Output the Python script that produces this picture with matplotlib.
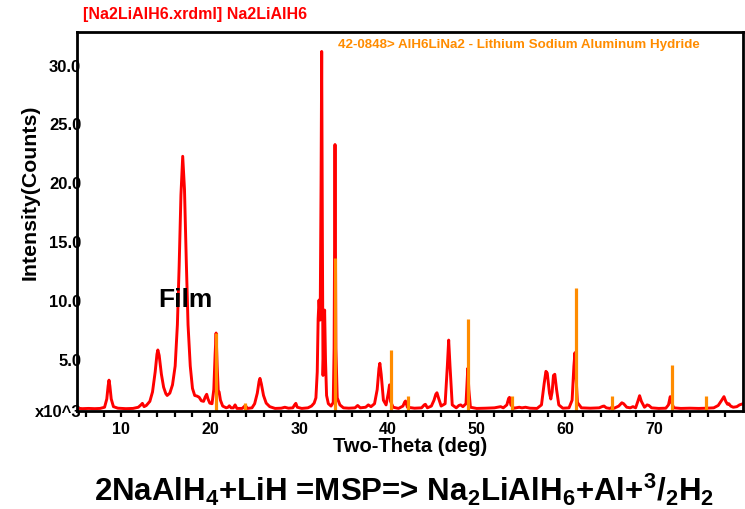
import matplotlib
matplotlib.use("Agg")
import matplotlib.pyplot as plt

plt.rcParams['font.family'] = ['Liberation Sans', 'DejaVu Sans']
plt.rcParams['font.weight'] = 'bold'

# measured pattern (two-theta in deg, counts in 10^3)
two_theta = [
    5.0, 5.6, 6.3, 7.0, 7.6, 8.1, 8.35, 8.5, 8.6, 8.7, 8.85, 9.1, 9.6, 10.5, 11.3, 11.9,
    12.2, 12.36, 12.55, 12.8, 13.2, 13.5, 13.8, 14.0, 14.1, 14.25, 14.5, 14.75, 15.0, 15.15,
    15.45, 15.75, 16.05, 16.3, 16.5, 16.7, 16.9, 17.1, 17.3, 17.5, 17.75, 18.0, 18.25, 18.5,
    18.75, 19.0, 19.25, 19.45, 19.6, 19.75, 19.95, 20.2, 20.4, 20.55, 20.66, 20.78, 20.9, 21.0,
    21.15, 21.4, 21.8, 22.0, 22.15, 22.35, 22.6, 22.8, 23.0, 23.6, 23.95, 24.2, 24.7, 25.0,
    25.3, 25.5, 25.6, 25.75, 26.0, 26.3, 26.7, 27.3, 28.0, 28.4, 28.8, 29.3, 29.5, 29.64,
    29.8, 30.3, 31.0, 31.4, 31.7, 31.9, 32.05, 32.15, 32.25, 32.38, 32.48, 32.55, 32.63, 32.7,
    32.78, 32.88, 32.98, 33.1, 33.3, 33.6, 33.85, 33.95, 34.05, 34.15, 34.3, 34.6, 35.0, 35.6,
    36.3, 36.6, 36.9, 37.5, 37.8, 38.1, 38.5, 38.8, 39.0, 39.1, 39.25, 39.5, 39.8, 40.05,
    40.19, 40.3, 40.6, 41.2, 41.7, 41.9, 41.99, 42.2, 43.0, 43.8, 44.1, 44.23, 44.45, 44.9,
    45.2, 45.4, 45.53, 45.7, 46.0, 46.45, 46.7, 46.85, 47.0, 47.25, 47.7, 48.0, 48.2, 48.45,
    48.8, 48.95, 49.0, 49.12, 49.3, 50.0, 51.0, 52.0, 52.7, 53.0, 53.4, 53.6, 53.7, 53.85,
    54.2, 54.8, 55.1, 55.5, 56.0, 56.8, 57.3, 57.6, 57.8, 57.95, 58.2, 58.35, 58.5, 58.65,
    58.8, 59.0, 59.25, 59.7, 60.4, 60.75, 60.95, 61.07, 61.2, 61.35, 61.8, 62.8, 63.8, 64.2,
    64.35, 64.6, 65.0, 65.25, 65.5, 66.0, 66.35, 66.55, 66.9, 67.3, 67.6, 67.9, 68.15, 68.35,
    68.55, 68.9, 69.2, 69.4, 69.7, 70.5, 71.3, 71.6, 71.8, 71.95, 72.2, 73.0, 74.0, 75.0,
    75.9, 76.7, 77.2, 77.6, 77.85, 78.05, 78.25, 78.4, 78.6, 78.9, 79.3, 79.6, 80.0,
]
counts = [
    0.92, 0.88, 0.90, 0.88, 0.90, 1.0, 1.7, 2.8, 3.3, 2.8, 1.7, 1.05, 0.92, 0.88, 0.90, 1.0,
    1.2, 1.33, 1.05, 1.15, 1.5, 2.3, 4.0, 5.5, 5.86, 5.4, 3.8, 2.7, 2.15, 2.0,
    2.2, 2.9, 4.5, 8.0, 13.0, 19.0, 22.3, 19.5, 13.5, 8.0, 4.5, 2.6, 2.0, 1.95,
    1.85, 1.55, 1.5, 1.9, 2.1, 1.7, 1.35, 1.3, 2.5, 5.5, 7.3, 4.5, 2.4, 2.3,
    1.6, 1.1, 0.95, 1.0, 1.12, 0.95, 0.95, 1.2, 0.9, 0.9, 1.15, 0.9, 0.95, 1.3,
    2.2, 3.2, 3.45, 3.0, 2.0, 1.35, 1.05, 0.9, 0.92, 1.0, 0.92, 0.95, 1.2, 1.33,
    1.0, 0.9, 0.95, 1.1, 1.35, 1.8, 4.0, 8.5, 10.1, 8.4, 20.0, 31.2, 15.0, 3.7,
    6.0, 9.25, 5.0, 2.0, 1.3, 1.1, 1.4, 6.0, 23.3, 6.0, 1.8, 1.2, 0.95, 0.92,
    0.95, 1.15, 0.95, 1.0, 1.2, 1.05, 1.3, 2.5, 4.3, 4.73, 3.8, 1.6, 1.2, 2.2,
    2.9, 1.5, 1.0, 0.9, 1.1, 1.45, 1.53, 1.0, 0.92, 0.95, 1.2, 1.25, 0.95, 1.1,
    1.6, 2.1, 2.23, 1.8, 1.1, 1.3, 4.5, 6.7, 4.5, 1.2, 0.95, 1.15, 1.2, 1.05,
    1.3, 3.6, 4.3, 2.5, 1.0, 0.9, 0.92, 0.95, 1.05, 0.95, 1.2, 1.75, 1.84, 1.2,
    0.92, 1.0, 0.95, 1.0, 0.92, 0.9, 1.2, 3.0, 4.05, 3.9, 2.2, 1.7, 2.3, 3.7,
    3.8, 2.5, 1.2, 0.92, 0.95, 1.6, 4.5, 5.63, 3.5, 1.4, 0.95, 0.92, 0.95, 1.08,
    1.1, 0.95, 0.9, 1.0, 0.92, 1.1, 1.38, 1.3, 1.0, 0.95, 1.05, 0.95, 1.5, 1.98,
    1.5, 1.0, 1.2, 1.15, 0.95, 0.9, 0.92, 1.2, 1.9, 1.4, 0.95, 0.9, 0.92, 0.9,
    0.92, 0.95, 1.15, 1.6, 1.9, 1.5, 1.25, 1.3, 1.1, 1.0, 1.05, 1.2, 1.3,
]

# reference card 42-0848 stick positions / heights
ref_theta = [20.66, 23.95, 34.05, 40.37, 42.28, 49.0, 53.95, 61.18, 65.25, 72.0, 75.85]
ref_height = [7.3, 1.36, 13.7, 5.9, 1.95, 8.46, 1.95, 11.1, 1.95, 4.58, 1.95]

y_bottom = 0.68
ytick_vals = [y_bottom, 5, 10, 15, 20, 25, 30]
ytick_labels = ['x10^3', '5.0', '10.0', '15.0', '20.0', '25.0', '30.0']

red = '#ff0000'
orange = '#ff8c00'

fig = plt.figure(figsize=(7.45, 5.09), dpi=100)
ax = fig.add_axes([0.1034, 0.1925, 0.8940, 0.7446])

ax.plot(two_theta, counts, color=red, linewidth=2.1, zorder=2)
ax.vlines(ref_theta, y_bottom, ref_height, color=orange, linewidth=2.3, zorder=3)

ax.set_xlim(5, 80)
ax.set_ylim(y_bottom, 32.85)

ax.set_xticks([10, 20, 30, 40, 50, 60, 70])
ax.set_xticks(list(range(6, 80, 2)), minor=True)
ax.tick_params(axis='x', which='both', direction='out', length=4, width=1.6,
               labelsize=11.5, pad=4)
ax.set_yticks(ytick_vals)
ax.set_yticklabels(ytick_labels)
ax.tick_params(axis='y', length=0, labelsize=12, pad=-3)
for lbl in ax.get_xticklabels() + ax.get_yticklabels():
    lbl.set_fontweight('bold')

for s in ax.spines.values():
    s.set_linewidth(2.0)
    s.set_zorder(5)

ax.set_xlabel('Two-Theta (deg)', fontsize=14.5, fontweight='bold', labelpad=0)
ax.set_ylabel('Intensity(Counts)', fontsize=15.3, fontweight='bold')
ax.yaxis.set_label_coords(-0.0556, 0.578)

fig.text(0.1115, 0.972, '[Na2LiAlH6.xrdml] Na2LiAlH6', color=red, fontsize=11.5,
         fontweight='bold', va='center', ha='left')
ax.text(0.392, 0.982, '42-0848> AlH6LiNa2 - Lithium Sodium Aluminum Hydride',
        transform=ax.transAxes, color=orange, fontsize=9.6, fontweight='bold',
        va='top', ha='left')
ax.text(17.15, 10.1, 'Film', fontsize=19, fontweight='bold', ha='center', va='center')

plt.rcParams['mathtext.fontset'] = 'custom'
plt.rcParams['mathtext.rm'] = 'Liberation Sans:bold'
plt.rcParams['mathtext.bf'] = 'Liberation Sans:bold'
plt.rcParams['mathtext.it'] = 'Liberation Sans:bold'
plt.rcParams['mathtext.default'] = 'bf'
fig.text(0.542, 0.037, '2NaAlH$_4$+LiH =MSP=> Na$_2$LiAlH$_6$+Al+$^3$/$_2$H$_2$',
         fontsize=22.5, fontweight='bold', ha='center', va='center')

fig.savefig('out.png', dpi=100)
